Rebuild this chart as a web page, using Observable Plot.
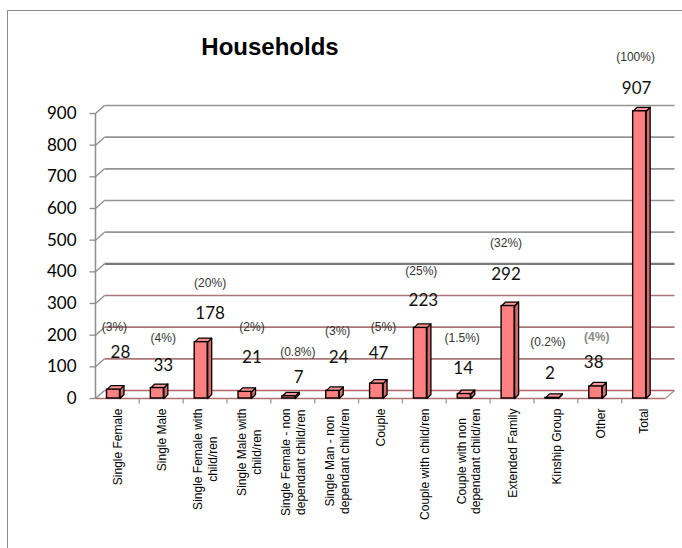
<!DOCTYPE html>
<html><head><meta charset="utf-8">
<script src="https://cdn.jsdelivr.net/npm/d3@7"></script>
<script src="https://cdn.jsdelivr.net/npm/@observablehq/plot@0.6"></script>
<style>
html,body{margin:0;padding:0;background:#fff;overflow:hidden;}
#wrap{position:relative;width:682px;height:548px;overflow:hidden;}
#frame{position:absolute;left:7px;top:10px;width:740px;height:600px;border:1.5px solid #8c8c8c;box-sizing:border-box;}
#title{position:absolute;left:0;width:540px;top:33px;text-align:center;font:bold 24px "Liberation Sans",Arial,sans-serif;color:#000;}
#chart{position:absolute;left:0;top:0;}
</style></head>
<body><div id="wrap"><div id="frame"></div><div id="title">Households</div><div id="chart"></div></div>
<script>
// ---- data ----
const categories = [
  "Single Female", "Single Male", "Single Female with\nchild/ren", "Single Male with\nchild/ren",
  "Single Female - non\ndependant child/ren", "Single Man - non\ndependant child/ren", "Couple",
  "Couple with child/ren", "Couple with non\ndependant child/ren", "Extended Family",
  "Kinship Group", "Other", "Total"
];
const values = [28, 33, 178, 21, 7, 24, 47, 223, 14, 292, 2, 38, 907];
const percents = ["(3%)", "(4%)", "(20%)", "(2%)", "(0.8%)", "(3%)", "(5%)", "(25%)", "(1.5%)", "(32%)", "(0.2%)", "(4%)", "(100%)"];
const yTicks = [0, 100, 200, 300, 400, 500, 600, 700, 800, 900];

// ---- layout (label placement, in value units / pixels) ----
const valueLabelLevel = [145, 104, 268, 129, 66, 129, 142, 309, 95, 392, 79, 114, 979];
const valueLabelShift = [3, 2, 5, 3, 6, 2, -2, -1, -5, -6, -6, -6, -7];
const pctLabelLevel = [224, 189, 363, 224, 145, 212, 224, 401, 189, 489, 177, 193, 1077];
const pctLabelShift = [-3, 2, 5, 3, 5, 1, 3, -3, -6, -6, -8, -3, -8];

const W = 682, H = 548, mL = 95, mR = 17, mT = 113, mB = 150;
const n = categories.length;
const kx = (W - mL - mR) / n, ky = (H - mT - mB) / 900;
const wallDx = 9 / kx, wallDy = 8 / ky;
const barDx = 4 / kx, barDy = 4 / ky;
const frontL = 11.5 / kx, frontR = 24.5 / kx;

const data = categories.map((c, i) => ({i, c, v: values[i], p: percents[i]}));

const capPts = [], sidePts = [];
data.forEach(d => {
  const x1 = d.i + frontL, x2 = d.i + frontR;
  [[x1, d.v], [x2, d.v], [x2 + barDx, d.v + barDy], [x1 + barDx, d.v + barDy], [x1, d.v]]
    .forEach(([x, y]) => capPts.push({i: d.i, x, y}));
  [[x2, 0], [x2, d.v], [x2 + barDx, d.v + barDy], [x2 + barDx, barDy], [x2, 0]]
    .forEach(([x, y]) => sidePts.push({i: d.i, x, y}));
});

const gridColor = t => t === 0 ? "#b56464" : t <= 300 ? "#ad7676" : t === 400 ? "#7a7a7a" : "#949494";
const gridWidth = t => t === 400 ? 2.2 : 1.6;

const ctx = document.createElement("canvas").getContext("2d");
ctx.font = "12px 'Liberation Sans'";
const labelWidth = s => Math.max(...s.split("\n").map(l => ctx.measureText(l).width));

const marks = [];
// floor
marks.push(Plot.line([{x:0,y:0},{x:n,y:0},{x:n+wallDx,y:wallDy},{x:wallDx,y:wallDy},{x:0,y:0}],
  {x:"x", y:"y", fill:"#fff", stroke:"none"}));
// back-wall gridlines and left diagonals
yTicks.forEach(t => {
  marks.push(Plot.link([t], {x1: () => wallDx, x2: () => n + wallDx, y1: d => d + wallDy, y2: d => d + wallDy,
    stroke: gridColor(t), strokeWidth: gridWidth(t)}));
  marks.push(Plot.link([t], {x1: () => 0, x2: () => wallDx, y1: d => d, y2: d => d + wallDy,
    stroke: "#8c8c8c", strokeWidth: 1.3}));
});
// floor front edge and right diagonal
marks.push(Plot.link([0], {x1: () => 0, x2: () => n, y1: () => 0, y2: () => 0, stroke: "#b07070", strokeWidth: 1.6}));
marks.push(Plot.link([0], {x1: () => n, x2: () => n + wallDx, y1: () => 0, y2: () => wallDy, stroke: "#9a9a9a", strokeWidth: 1.3}));
// category tick marks under floor
marks.push(Plot.link(d3.range(1, n), {x1: d => d, x2: d => d, y1: () => 0, y2: () => -5 / ky, stroke: "#9a9a9a", strokeWidth: 1.3}));
// y axis line and ticks
marks.push(Plot.link([0], {x1: () => 0, x2: () => 0, y1: () => 0, y2: () => 900, stroke: "#8c8c8c", strokeWidth: 1.5}));
marks.push(Plot.link(yTicks, {x1: () => -6 / kx, x2: () => 0, y1: d => d, y2: d => d, stroke: "#8c8c8c", strokeWidth: 1.3}));
marks.push(Plot.text(yTicks, {x: () => 0, y: d => d, text: d => String(d), dx: -19, textAnchor: "end",
  fontSize: 17, fontFamily: "Lato, 'Open Sans', sans-serif", fill: "#000"}));
// bars
marks.push(Plot.line(sidePts, {x: "x", y: "y", z: "i", fill: "#d86a6a", stroke: "#000", strokeWidth: 1.3, strokeLinejoin: "round"}));
marks.push(Plot.line(capPts, {x: "x", y: "y", z: "i", fill: "#ff9696", stroke: "#000", strokeWidth: 1.3, strokeLinejoin: "round"}));
marks.push(Plot.rect(data, {x1: d => d.i + frontL, x2: d => d.i + frontR, y1: () => 0, y2: "v",
  fill: "#ff8080", stroke: "#000", strokeWidth: 1.4}));
// value and percent labels
data.forEach(d => {
  marks.push(Plot.text([d], {x: () => d.i + 0.5, y: () => valueLabelLevel[d.i], text: "v", dx: valueLabelShift[d.i],
    fontSize: 17, fontFamily: "Lato, 'Open Sans', sans-serif", fill: "#111"}));
  const isOther = d.i === 11;
  marks.push(Plot.text([d], {x: () => d.i + 0.5, y: () => pctLabelLevel[d.i], text: "p", dx: pctLabelShift[d.i],
    fontSize: 12, fontFamily: "'Liberation Sans', Arial, sans-serif",
    fill: isOther ? "#8a8a8a" : "#333", fontWeight: isOther ? "bold" : "normal",
    stroke: isOther ? "#fff" : null, strokeWidth: isOther ? 5 : null}));
  // category labels
  marks.push(Plot.text([d], {x: () => d.i + 0.5, y: () => 0, text: "c", rotate: -90, textAnchor: "middle",
    lineAnchor: "middle", lineHeight: 1.25, dy: 10 + labelWidth(d.c) / 2,
    fontSize: 12, fontFamily: "'Liberation Sans', Arial, sans-serif", fill: "#000"}));
});

const chart = Plot.plot({
  width: W, height: H, marginLeft: mL, marginRight: mR, marginTop: mT, marginBottom: mB,
  x: {type: "linear", domain: [0, n], axis: null},
  y: {type: "linear", domain: [0, 900], axis: null},
  style: {background: "transparent", overflow: "visible"},
  marks
});
document.getElementById("chart").appendChild(chart);
</script>
</body></html>
